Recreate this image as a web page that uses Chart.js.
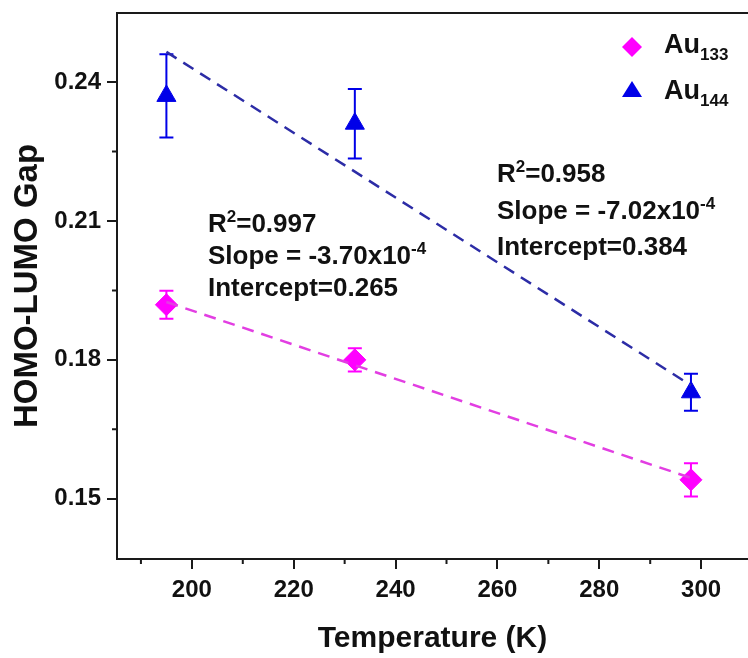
<!DOCTYPE html>
<html>
<head>
<meta charset="utf-8">
<script src="https://cdn.jsdelivr.net/npm/chart.js@4"></script>
<style>
  html, body { margin: 0; padding: 0; background: #fff; overflow: hidden; }
  #wrap { width: 748px; height: 658px; }
</style>
</head>
<body>
<div id="wrap"><canvas id="gapChart" width="748" height="658"></canvas></div>
<script>
// values
const temperatures = [195, 232, 298];
const au133Gap = [0.1919, 0.1800, 0.1541];
const au133Err = [0.0030, 0.0025, 0.0036];
const au144Gap = [0.2370, 0.2310, 0.1730];
const au144Err = [0.0090, 0.0075, 0.0040];

// dashed linear fits (end points)
const fitTemps = [195, 298];
const au133Fit = [0.1925, 0.1545];
const au144Fit = [0.2465, 0.1745];

const xTicks = [200, 220, 240, 260, 280, 300];
const xMinor = [190, 210, 230, 250, 270, 290];
const yTicks = [0.15, 0.18, 0.21, 0.24];
const yMinor = [0.165, 0.195, 0.225];

const FONT = '"Liberation Sans", Arial, sans-serif';
const AXIS = '#1a1a1a';
const MAGENTA = '#ff00ff';
const BLUE = '#0000e8';

function toPoints(xs, ys) {
    return xs.map((x, i) => ({ x: x, y: ys[i] }));
}

// draws text with sub / superscript pieces
function drawRich(ctx, x, y, parts, size) {
    let cx = x;
    parts.forEach(p => {
        const s = p.pos ? Math.round(size * 0.64) : size;
        ctx.font = `bold ${s}px ${FONT}`;
        let dy = 0;
        if (p.pos === 'sup') dy = -size * 0.38;
        if (p.pos === 'sub') dy = size * 0.26;
        ctx.fillText(p.t, cx, y + dy);
        cx += ctx.measureText(p.t).width;
    });
}

const errorBars = {
    id: 'errorBars',
    beforeDatasetsDraw(chart) {
        const { ctx, scales: { x, y } } = chart;
        const sets = [
            { vals: au133Gap, errs: au133Err, color: MAGENTA },
            { vals: au144Gap, errs: au144Err, color: BLUE }
        ];
        ctx.save();
        ctx.lineWidth = 2;
        sets.forEach(s => {
            ctx.strokeStyle = s.color;
            temperatures.forEach((t, i) => {
                const px = x.getPixelForValue(t);
                const top = y.getPixelForValue(s.vals[i] + s.errs[i]);
                const bot = y.getPixelForValue(s.vals[i] - s.errs[i]);
                ctx.beginPath();
                ctx.moveTo(px, top); ctx.lineTo(px, bot);
                ctx.moveTo(px - 7, top); ctx.lineTo(px + 7, top);
                ctx.moveTo(px - 7, bot); ctx.lineTo(px + 7, bot);
                ctx.stroke();
            });
        });
        ctx.restore();
    }
};

const frameAndText = {
    id: 'frameAndText',
    afterDraw(chart) {
        const { ctx, chartArea: a, scales: { x, y } } = chart;
        ctx.save();
        // top frame line
        ctx.strokeStyle = AXIS;
        ctx.lineWidth = 2;
        ctx.beginPath();
        ctx.moveTo(a.left, a.top);
        ctx.lineTo(a.right, a.top);
        ctx.stroke();

        // minor ticks
        ctx.beginPath();
        xMinor.forEach(v => {
            const px = x.getPixelForValue(v);
            ctx.moveTo(px, a.bottom); ctx.lineTo(px, a.bottom + 5);
        });
        yMinor.forEach(v => {
            const py = y.getPixelForValue(v);
            ctx.moveTo(a.left, py); ctx.lineTo(a.left - 5, py);
        });
        ctx.stroke();

        // fit annotations
        ctx.fillStyle = '#111';
        ctx.textBaseline = 'alphabetic';
        ctx.textAlign = 'left';
        drawRich(ctx, 208, 232, [{ t: 'R' }, { t: '2', pos: 'sup' }, { t: '=0.997' }], 26);
        drawRich(ctx, 208, 264, [{ t: 'Slope = -3.70x10' }, { t: '-4', pos: 'sup' }], 26);
        drawRich(ctx, 208, 296, [{ t: 'Intercept=0.265' }], 26);

        drawRich(ctx, 497, 182, [{ t: 'R' }, { t: '2', pos: 'sup' }, { t: '=0.958' }], 26);
        drawRich(ctx, 497, 219, [{ t: 'Slope = -7.02x10' }, { t: '-4', pos: 'sup' }], 26);
        drawRich(ctx, 497, 255, [{ t: 'Intercept=0.384' }], 26);

        // legend
        ctx.fillStyle = MAGENTA;
        ctx.beginPath();
        ctx.moveTo(632, 37); ctx.lineTo(642, 47); ctx.lineTo(632, 57); ctx.lineTo(622, 47);
        ctx.closePath();
        ctx.fill();
        ctx.fillStyle = BLUE;
        ctx.beginPath();
        ctx.moveTo(632, 81); ctx.lineTo(642, 97); ctx.lineTo(622, 97);
        ctx.closePath();
        ctx.fill();
        ctx.fillStyle = '#111';
        drawRich(ctx, 664, 53, [{ t: 'Au' }, { t: '133', pos: 'sub' }], 27);
        drawRich(ctx, 664, 99, [{ t: 'Au' }, { t: '144', pos: 'sub' }], 27);
        ctx.restore();
    }
};

new Chart(document.getElementById('gapChart'), {
    type: 'scatter',
    data: {
        datasets: [
            {
                label: 'Au133 fit',
                data: toPoints(fitTemps, au133Fit),
                showLine: true,
                borderColor: '#e23ee2',
                borderWidth: 2.5,
                borderDash: [12, 8],
                pointRadius: 0
            },
            {
                label: 'Au144 fit',
                data: toPoints(fitTemps, au144Fit),
                showLine: true,
                borderColor: '#2c2ca6',
                borderWidth: 2.5,
                borderDash: [12, 8],
                pointRadius: 0
            },
            {
                label: 'Au133',
                data: toPoints(temperatures, au133Gap),
                pointStyle: 'rectRot',
                pointRadius: 11,
                backgroundColor: MAGENTA,
                borderColor: MAGENTA,
                borderWidth: 1
            },
            {
                label: 'Au144',
                data: toPoints(temperatures, au144Gap),
                pointStyle: 'triangle',
                pointRadius: 11,
                backgroundColor: BLUE,
                borderColor: BLUE,
                borderWidth: 1
            }
        ]
    },
    options: {
        responsive: false,
        animation: false,
        devicePixelRatio: 1,
        layout: { autoPadding: false, padding: { top: 13, right: 0, bottom: 0, left: 0 } },
        plugins: {
            legend: { display: false },
            tooltip: { enabled: false }
        },
        scales: {
            x: {
                type: 'linear',
                min: 185.3,
                max: 309.2,
                afterBuildTicks: s => { s.ticks = xTicks.map(v => ({ value: v })); },
                afterFit: s => { s.height = 99; s.paddingLeft = 0; s.paddingRight = 0; },
                ticks: {
                    color: '#111',
                    padding: 7,
                    font: { family: FONT, size: 24, weight: 'bold' },
                    callback: v => String(v)
                },
                grid: { drawOnChartArea: false, drawTicks: true, tickLength: 10, color: AXIS, lineWidth: 2 },
                border: { display: true, color: AXIS, width: 2 },
                title: {
                    display: true,
                    text: 'Temperature (K)',
                    color: '#111',
                    font: { family: FONT, size: 30, weight: 'bold' },
                    padding: { top: 0, bottom: 1 }
                }
            },
            y: {
                type: 'linear',
                min: 0.137,
                max: 0.2549,
                afterBuildTicks: s => { s.ticks = yTicks.map(v => ({ value: v })); },
                afterFit: s => { s.width = 117; s.paddingTop = 0; s.paddingBottom = 0; },
                ticks: {
                    color: '#111',
                    padding: 6,
                    font: { family: FONT, size: 24, weight: 'bold' },
                    callback: v => v.toFixed(2)
                },
                grid: { drawOnChartArea: false, drawTicks: true, tickLength: 10, color: AXIS, lineWidth: 2 },
                border: { display: true, color: AXIS, width: 2 },
                title: {
                    display: true,
                    text: 'HOMO-LUMO Gap',
                    color: '#111',
                    font: { family: FONT, size: 33, weight: 'bold' },
                    padding: { top: 8, bottom: 0 }
                }
            }
        }
    },
    plugins: [errorBars, frameAndText]
});
</script>
</body>
</html>
